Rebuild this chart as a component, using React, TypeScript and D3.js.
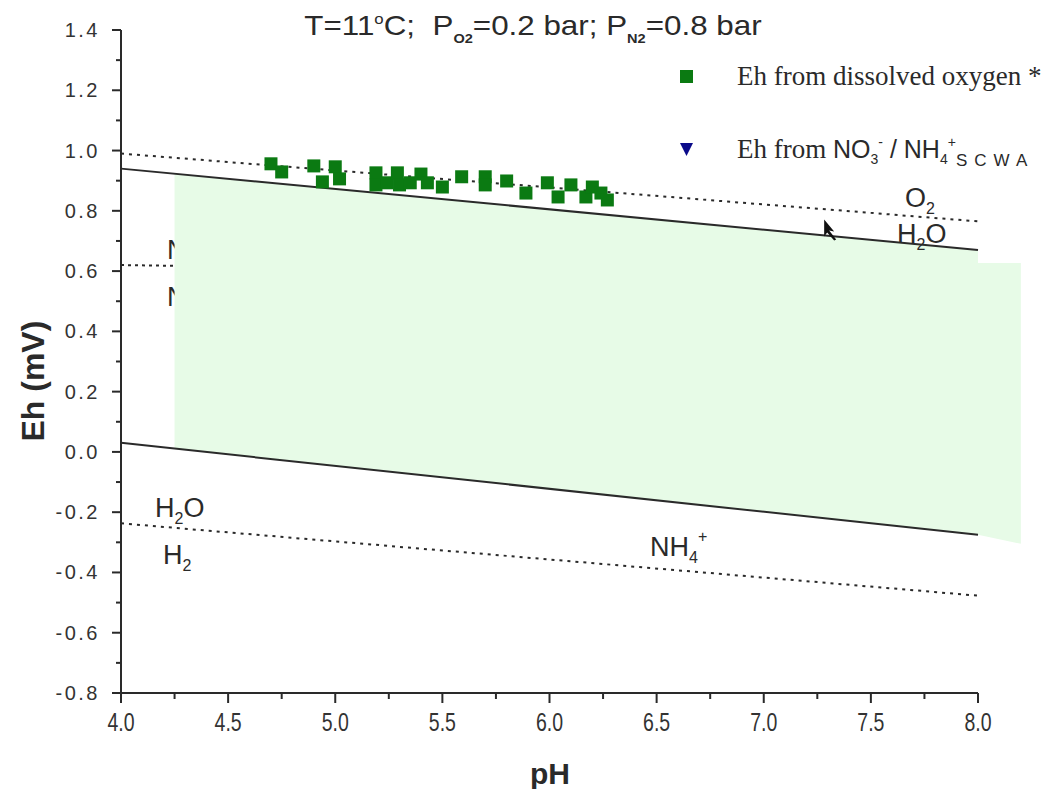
import React from "react";
import * as d3 from "d3";

// measured Eh (V) vs pH, dissolved oxygen method
const doPH = [4.7, 4.75, 4.9, 4.94, 5.0, 5.02, 5.19, 5.19, 5.24, 5.29, 5.3, 5.35, 5.4, 5.43, 5.5, 5.59, 5.7, 5.7, 5.8, 5.89, 5.99, 6.04, 6.1, 6.17, 6.2, 6.24, 6.27];
const doEh = [0.956, 0.929, 0.949, 0.896, 0.946, 0.906, 0.926, 0.886, 0.893, 0.926, 0.886, 0.893, 0.922, 0.893, 0.879, 0.913, 0.913, 0.886, 0.899, 0.859, 0.893, 0.846, 0.886, 0.846, 0.879, 0.859, 0.836];

// stability boundaries (pH endpoints, Eh endpoints)
const boundPH = [4, 8];
const o2Dotted = [0.99, 0.765];
const o2Solid = [0.94, 0.67];
const no3Dotted = [0.62, 0.58];
const h2Solid = [0.03, -0.275];
const h2Dotted = [-0.237, -0.477];

// light green shaded patch
const patchPH = [4.25, 8.0, 8.0, 8.2, 8.2, 8.0, 4.25];
const patchEh = [0.923, 0.67, 0.627, 0.627, -0.305, -0.275, 0.011];

const xTicks = [4.0, 4.5, 5.0, 5.5, 6.0, 6.5, 7.0, 7.5, 8.0];
const yTicks = [1.4, 1.2, 1.0, 0.8, 0.6, 0.4, 0.2, 0.0, -0.2, -0.4, -0.6, -0.8];

const W = 1050;
const H = 789;
const sans = "'Liberation Sans', Arial, sans-serif";
const serif = "'Liberation Serif', 'Times New Roman', serif";
const ink = "#2a2a2a";

// horizontal stretch about a point
const stretch = (cx: number, s: number) => `translate(${cx},0) scale(${s},1) translate(${-cx},0)`;

export default function App() {
  const x = d3.scaleLinear().domain([4, 8]).range([121, 978]);
  const y = d3.scaleLinear().domain([-0.8, 1.4]).range([693, 30]);

  const line = d3.line<number>().x((_, i) => x(boundPH[i])).y((d) => y(d));
  const patch = d3
    .line<number>()
    .x((_, i) => x(patchPH[i]))
    .y((d) => y(d));

  const minorY = d3.range(-0.8, 1.401, 0.1);
  const minorX = d3.range(4, 8.001, 0.25);
  const sq = 13;

  const arrowAt = [x(7.31), y(0.745)];

  return (
    <div style={{ position: "absolute", left: 0, top: 0 }}>
      <svg width={W} height={H} style={{ display: "block", background: "#fff" }}>
        {/* hidden NO3-/N2 boundary and its labels (covered by the patch) */}
        <path d={line(no3Dotted) || ""} fill="none" stroke={ink} strokeWidth={2} strokeDasharray="3,4" />
        <text x={167} y={259} fontFamily={sans} fontSize={27} fill={ink}>
          NO<tspan fontSize={16} dy={7}>3</tspan>
        </text>
        <text x={167} y={306} fontFamily={sans} fontSize={27} fill={ink}>
          N<tspan fontSize={16} dy={7}>2</tspan>
        </text>

        <path d={(patch(patchEh) || "") + "Z"} fill="#e7fbe7" stroke="none" />

        {/* boundaries */}
        <path d={line(o2Dotted) || ""} fill="none" stroke={ink} strokeWidth={2} strokeDasharray="3,5" />
        <path d={line(o2Solid) || ""} fill="none" stroke={ink} strokeWidth={2} />
        <path d={line(h2Solid) || ""} fill="none" stroke={ink} strokeWidth={2} />
        <path d={line(h2Dotted) || ""} fill="none" stroke={ink} strokeWidth={2} strokeDasharray="3,5" />

        {/* measured points */}
        {doPH.map((p, i) => (
          <rect key={i} x={x(p) - sq / 2} y={y(doEh[i]) - sq / 2} width={sq} height={sq} fill="#0b7a12" />
        ))}

        {/* cursor-like arrow */}
        <path
          d={`M${arrowAt[0] - 6},${arrowAt[1] - 8} L${arrowAt[0] + 4},${arrowAt[1] + 4} L${arrowAt[0] - 1},${arrowAt[1] + 3} L${arrowAt[0] + 6},${arrowAt[1] + 12} L${arrowAt[0] + 4},${arrowAt[1] + 13} L${arrowAt[0] - 3},${arrowAt[1] + 5} L${arrowAt[0] - 6},${arrowAt[1] + 9} Z`}
          fill="#111"
        />

        {/* region labels */}
        <text x={905} y={207} fontFamily={sans} fontSize={27} fill={ink}>
          O<tspan fontSize={16} dy={7}>2</tspan>
        </text>
        <text x={897} y={243} fontFamily={sans} fontSize={27} fill={ink}>
          H<tspan fontSize={16} dy={7}>2</tspan>
          <tspan dy={-7}>O</tspan>
        </text>
        <text x={155} y={517} fontFamily={sans} fontSize={27} fill={ink}>
          H<tspan fontSize={16} dy={7}>2</tspan>
          <tspan dy={-7}>O</tspan>
        </text>
        <text x={163} y={564} fontFamily={sans} fontSize={27} fill={ink}>
          H<tspan fontSize={16} dy={7}>2</tspan>
        </text>
        <text x={650} y={556} fontFamily={sans} fontSize={27} fill={ink}>
          NH<tspan fontSize={16} dy={7}>4</tspan>
          <tspan fontSize={16} dy={-21}>+</tspan>
        </text>

        {/* title */}
        <text
          x={533}
          y={35}
          textAnchor="middle"
          fontFamily={sans}
          fontSize={28}
          fill={ink}
          xmlSpace="preserve"
          transform={stretch(533, 1.12)}
        >
          T=11<tspan fontSize={15} dy={-11}>o</tspan>
          <tspan dy={11}>{"C;  P"}</tspan>
          <tspan fontSize={13} fontWeight="bold" dy={8}>O2</tspan>
          <tspan dy={-8}>=0.2 bar; P</tspan>
          <tspan fontSize={13} fontWeight="bold" dy={8}>N2</tspan>
          <tspan dy={-8}>=0.8 bar</tspan>
        </text>

        {/* legend */}
        <rect x={680} y={70} width={13} height={13} fill="#0b7a12" />
        <text x={737} y={85} fontFamily={serif} fontSize={27} fill={ink}>
          Eh from dissolved oxygen *
        </text>
        <path d="M680,143 L693,143 L686.5,156 Z" fill="#0b0b8a" />
        <text x={737} y={158} fontFamily={serif} fontSize={27} fill={ink}>
          Eh from{" "}
          <tspan fontFamily={sans} fontSize={25}>NO</tspan>
          <tspan fontFamily={sans} fontSize={14} dy={6}>3</tspan>
          <tspan fontFamily={sans} fontSize={14} dy={-17}>-</tspan>
          <tspan fontFamily={sans} fontSize={25} dy={11}> / NH</tspan>
          <tspan fontFamily={sans} fontSize={14} dy={6}>4</tspan>
          <tspan fontFamily={sans} fontSize={14} dy={-17}>+</tspan>
          <tspan fontFamily={sans} fontSize={17} letterSpacing={7} dy={19}>SCWA</tspan>
        </text>

        {/* y axis */}
        <line x1={121} x2={121} y1={y(1.4)} y2={y(-0.8)} stroke={ink} strokeWidth={2} />
        {minorY.map((v, i) => (
          <line key={"my" + i} x1={121 - (i % 2 === 0 ? 9 : 5)} x2={121} y1={y(v)} y2={y(v)} stroke={ink} strokeWidth={2} />
        ))}
        {yTicks.map((v) => (
          <text key={"yt" + v} x={100} y={y(v) + 7} textAnchor="end" fontFamily={sans} fontSize={20} letterSpacing={2.5} fill="#333">
            {v.toFixed(1)}
          </text>
        ))}

        {/* x axis */}
        <line x1={x(4)} x2={x(8)} y1={693} y2={693} stroke={ink} strokeWidth={2} />
        {minorX.map((v, i) => (
          <line key={"mx" + i} x1={x(v)} x2={x(v)} y1={693} y2={693 + (i % 2 === 0 ? 10 : 6)} stroke={ink} strokeWidth={2} />
        ))}
        {xTicks.map((v) => (
          <text key={"xt" + v} x={x(v)} y={731} textAnchor="middle" fontFamily={sans} fontSize={25} fill="#333" transform={stretch(x(v), 0.78)}>
            {v.toFixed(1)}
          </text>
        ))}

        {/* axis titles */}
        <text
          transform={`translate(44,${y(0.235)}) rotate(-90)`}
          textAnchor="middle"
          fontFamily={sans}
          fontSize={32}
          fontWeight="bold"
          fill={ink}
        >
          Eh (mV)
        </text>
        <text x={550} y={784} textAnchor="middle" fontFamily={sans} fontSize={30} fontWeight="bold" fill={ink}>
          pH
        </text>
      </svg>
    </div>
  );
}
